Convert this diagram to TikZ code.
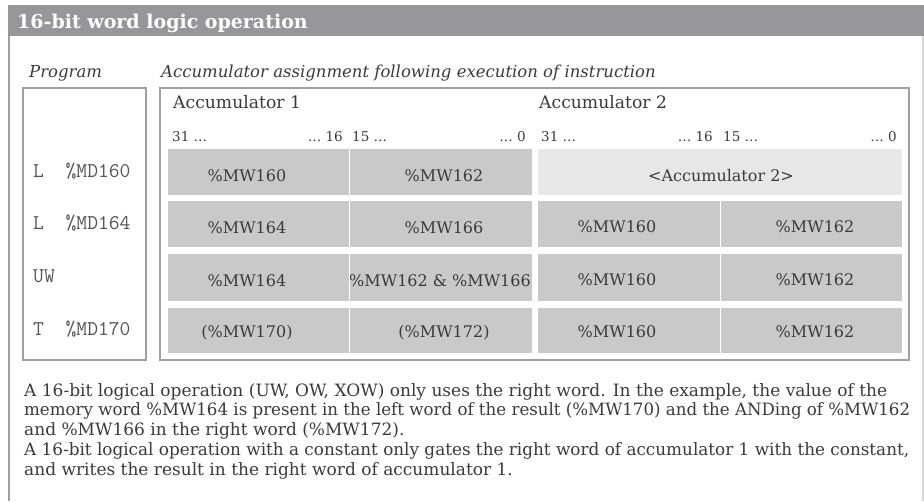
\documentclass[tikz,border=0pt]{standalone}
\usepackage{fontspec}
\setmainfont{DejaVu Serif}
\definecolor{hdr}{RGB}{150,151,155}
\definecolor{celld}{RGB}{200,201,203}
\definecolor{celll}{RGB}{230,231,232}
\definecolor{txt}{RGB}{58,58,58}
\definecolor{mtxt}{RGB}{85,85,85}
\definecolor{frm}{RGB}{160,160,160}
\definecolor{frml}{RGB}{215,215,215}
\tikzset{
  cellbox/.style={fill=celld, draw=none},
  celllbox/.style={fill=celll, draw=none},
  celltext/.style={text=txt, font=\fontsize{16}{18}\selectfont, inner sep=0pt, anchor=base},
  bittext/.style={text=txt, font=\fontsize{13.5}{15}\selectfont, inner sep=0pt},
  prog/.style={text=mtxt, font=\ttfamily\fontsize{21}{24}\selectfont, inner sep=0pt, anchor=base west},
  para/.style={text=txt, font=\fontsize{17}{20}\selectfont, inner sep=0pt, anchor=base west},
  heading/.style={text=txt, font=\itshape\fontsize{16.5}{18}\selectfont, inner sep=0pt, anchor=base west},
  acclabel/.style={text=txt, font=\fontsize{17.2}{19}\selectfont, inner sep=0pt, anchor=base west},
  frame/.style={draw=frm, line width=1.3pt},
}
\begin{document}
\begin{tikzpicture}[x=1pt,y=-1pt]
\useasboundingbox (0,0) rectangle (924,501);
% header
\fill[hdr] (8,5) rectangle (924,36);
\node[anchor=base west, text=white, font=\bfseries\fontsize{19}{22}\selectfont, inner sep=0pt] (title) at (17,28) {16-bit word logic operation};
\draw[frm, line width=1.5pt] (9,36) -- (9,501);
\draw[frml, line width=1.2pt] (923,36) -- (923,501);
% column titles
\node[heading] (hprog) at (29,77.5) {Program};
\node[heading] (hacc) at (161,77.5) {Accumulator assignment following execution of instruction};
% boxes
\draw[frame] (23,88) rectangle (146,360);
\draw[frame] (160,88) rectangle (909,360);
\node[acclabel] (acc1) at (173,108.5) {Accumulator 1};
\node[acclabel] (acc2) at (539,108.5) {Accumulator 2};
% bit labels
\node[bittext, anchor=base west] (b1) at (172,141.5) {31 …};
\node[bittext, anchor=base east] (b2) at (343,141.5) {… 16};
\node[bittext, anchor=base west] (b3) at (352,141.5) {15 …};
\node[bittext, anchor=base east] (b4) at (526,141.5) {… 0};
\node[bittext, anchor=base west] (b5) at (541,141.5) {31 …};
\node[bittext, anchor=base east] (b6) at (713,141.5) {… 16};
\node[bittext, anchor=base west] (b7) at (723,141.5) {15 …};
\node[bittext, anchor=base east] (b8) at (897,141.5) {… 0};
% row 1
\fill[cellbox] (168,149) rectangle (348.5,195);
\fill[cellbox] (350,149) rectangle (532,195);
\fill[celllbox] (538,149) rectangle (902,195);
\node[celltext] (r1a) at (247,181) {\%MW160};
\node[celltext] (r1b) at (444,181) {\%MW162};
\node[celltext] (r1c) at (721,181) {<Accumulator 2>};
% row 2
\fill[cellbox] (168,201) rectangle (348.5,247);
\fill[cellbox] (350,201) rectangle (532,247);
\fill[cellbox] (538,201) rectangle (719.5,247);
\fill[cellbox] (721,201) rectangle (902,247);
\node[celltext] (r2a) at (247,233) {\%MW164};
\node[celltext] (r2b) at (444,233) {\%MW166};
\node[celltext] (r2c) at (617,232) {\%MW160};
\node[celltext] (r2d) at (815,232) {\%MW162};
% row 3
\fill[cellbox] (168,254) rectangle (348.5,301);
\fill[cellbox] (350,254) rectangle (532,301);
\fill[cellbox] (538,254) rectangle (719.5,301);
\fill[cellbox] (721,254) rectangle (902,301);
\node[celltext] (r3a) at (247,286) {\%MW164};
\node[celltext] (r3b) at (440,286) {\%MW162 \& \%MW166};
\node[celltext] (r3c) at (617,285) {\%MW160};
\node[celltext] (r3d) at (815,285) {\%MW162};
% row 4
\fill[cellbox] (168,308) rectangle (348.5,353);
\fill[cellbox] (350,308) rectangle (532,353);
\fill[cellbox] (538,308) rectangle (719.5,353);
\fill[cellbox] (721,308) rectangle (902,353);
\node[celltext] (r4a) at (247,337) {(\%MW170)};
\node[celltext] (r4b) at (444,337) {(\%MW172)};
\node[celltext] (r4c) at (617,337) {\%MW160};
\node[celltext] (r4d) at (815,337) {\%MW162};
% program
\node[prog] (p1) at (33,177) {L\ \ \%MD160};
\node[prog] (p2) at (33,229) {L\ \ \%MD164};
\node[prog] (p3) at (33,282) {UW};
\node[prog] (p4) at (33,335) {T\ \ \%MD170};
% paragraph
\node[para] (t1) at (24,396) {\resizebox{863pt}{\height}{A 16-bit logical operation (UW, OW, XOW) only uses the right word. In the example, the value of the}};
\node[para] (t2) at (24,415.8) {\resizebox{886pt}{\height}{memory word \%MW164 is present in the left word of the result (\%MW170) and the ANDing of \%MW162}};
\node[para] (t3) at (24,435.6) {and \%MW166 in the right word (\%MW172).};
\node[para] (t4) at (24,455.4) {\resizebox{885pt}{\height}{A 16-bit logical operation with a constant only gates the right word of accumulator 1 with the constant,}};
\node[para] (t5) at (24,475.2) {and writes the result in the right word of accumulator 1.};
\end{tikzpicture}
\end{document}
